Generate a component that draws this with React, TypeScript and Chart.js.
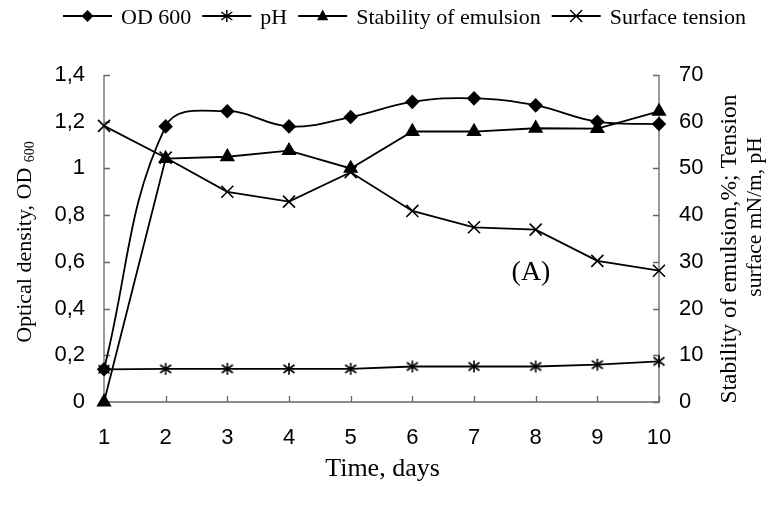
import React, { useEffect, useRef } from 'react';
import { Chart, registerables } from 'chart.js';

Chart.register(...registerables);

const days = ['1', '2', '3', '4', '5', '6', '7', '8', '9', '10'];
const od600 = [0.14, 1.18, 1.245, 1.18, 1.22, 1.285, 1.3, 1.27, 1.2, 1.19];
const pH = [7.0, 7.1, 7.1, 7.1, 7.1, 7.6, 7.6, 7.6, 8.0, 8.7];
const stability = [0, 52.1, 52.5, 53.8, 50.0, 57.9, 57.9, 58.6, 58.5, 62.2];
const surfaceTension = [59.1, 52.3, 45.0, 42.9, 49.2, 40.9, 37.4, 36.9, 30.2, 28.1];
const leftTicks = [0, 0.2, 0.4, 0.6, 0.8, 1.0, 1.2, 1.4];
const rightTicks = [0, 10, 20, 30, 40, 50, 60, 70];
const seriesNames = ['OD 600', 'pH', 'Stability of emulsion', 'Surface tension'];

const SERIF = "'Liberation Serif', 'Times New Roman', serif";
const SANS = "'Liberation Sans', Arial, sans-serif";

function fmtLeft(v: number) {
  return String(Number(v.toFixed(1))).replace('.', ',');
}

function drawMarker(ctx: CanvasRenderingContext2D, kind: number, x: number, y: number) {
  ctx.save();
  ctx.fillStyle = '#000';
  ctx.strokeStyle = '#000';
  ctx.lineWidth = 1.5;
  ctx.beginPath();
  if (kind === 0) {
    const r = 6;
    ctx.moveTo(x, y - r); ctx.lineTo(x + r, y); ctx.lineTo(x, y + r); ctx.lineTo(x - r, y); ctx.closePath();
    ctx.fill();
  } else if (kind === 1) {
    ctx.moveTo(x, y - 6); ctx.lineTo(x, y + 6);
    ctx.moveTo(x - 5.5, y - 4); ctx.lineTo(x + 5.5, y + 4);
    ctx.moveTo(x - 5.5, y + 4); ctx.lineTo(x + 5.5, y - 4);
    ctx.stroke();
  } else if (kind === 2) {
    const r = 6.5;
    ctx.moveTo(x, y - r); ctx.lineTo(x + r * 0.866, y + r * 0.5 + 1); ctx.lineTo(x - r * 0.866, y + r * 0.5 + 1); ctx.closePath();
    ctx.fill();
  } else {
    const d = 6;
    ctx.moveTo(x - d, y - d); ctx.lineTo(x + d, y + d);
    ctx.moveTo(x - d, y + d); ctx.lineTo(x + d, y - d);
    ctx.stroke();
  }
  ctx.restore();
}

function makeAsterisk(): HTMLCanvasElement {
  const c = document.createElement('canvas');
  c.width = 14; c.height = 14;
  const g = c.getContext('2d')!;
  g.strokeStyle = '#000';
  g.lineWidth = 1.6;
  g.beginPath();
  g.moveTo(7, 1); g.lineTo(7, 13);
  g.moveTo(1.5, 3); g.lineTo(12.5, 11);
  g.moveTo(1.5, 11); g.lineTo(12.5, 3);
  g.stroke();
  return c;
}

const overlay = {
  id: 'overlay',
  beforeDatasetsDraw(chart: any) {
    const { ctx, chartArea: a, scales } = chart;
    ctx.save();
    ctx.strokeStyle = '#666';
    ctx.lineWidth = 1.3;
    ctx.beginPath();
    ctx.moveTo(a.left, a.top); ctx.lineTo(a.left, a.bottom); ctx.lineTo(a.right, a.bottom); ctx.lineTo(a.right, a.top);
    ctx.stroke();
    ctx.beginPath();
    scales.y.ticks.forEach((t: any) => {
      const y = Math.round(scales.y.getPixelForValue(t.value)) + 0.5;
      ctx.moveTo(a.left, y); ctx.lineTo(a.left + 6, y);
    });
    scales.y1.ticks.forEach((t: any) => {
      const y = Math.round(scales.y1.getPixelForValue(t.value)) + 0.5;
      ctx.moveTo(a.right - 6, y); ctx.lineTo(a.right, y);
    });
    scales.x.ticks.forEach((_t: any, i: number) => {
      const x = Math.round(scales.x.getPixelForTick(i)) + 0.5;
      ctx.moveTo(x, a.bottom); ctx.lineTo(x, a.bottom - 6);
    });
    ctx.stroke();
    ctx.restore();
  },
  afterDraw(chart: any) {
    const { ctx, chartArea: a } = chart;
    ctx.save();
    ctx.fillStyle = '#000';
    ctx.strokeStyle = '#000';
    // legend
    ctx.font = `22px ${SERIF}`;
    ctx.textBaseline = 'alphabetic';
    ctx.textAlign = 'left';
    let x = 63;
    const ly = 16;
    seriesNames.forEach((name, i) => {
      ctx.lineWidth = 1.8;
      ctx.beginPath();
      ctx.moveTo(x, ly); ctx.lineTo(x + 49, ly);
      ctx.stroke();
      drawMarker(ctx, i, x + 24.5, ly);
      ctx.fillText(name, x + 58, ly + 8);
      x = x + 58 + ctx.measureText(name).width + 11;
    });
    // x title
    ctx.textAlign = 'center';
    ctx.font = `26px ${SERIF}`;
    ctx.fillText('Time, days', (a.left + a.right) / 2 + 1, 476);
    // (A)
    ctx.font = `28px ${SERIF}`;
    ctx.fillText('(A)', 531, 280);
    // left title
    ctx.save();
    ctx.translate(31, 242);
    ctx.rotate(-Math.PI / 2);
    ctx.textAlign = 'left';
    ctx.font = `22px ${SERIF}`;
    const main = 'Optical density, OD ';
    const w1 = ctx.measureText(main).width;
    ctx.font = `14px ${SERIF}`;
    const w2 = ctx.measureText('600').width;
    const start = -(w1 + w2) / 2;
    ctx.font = `22px ${SERIF}`;
    ctx.fillText(main, start, 0);
    ctx.font = `14px ${SERIF}`;
    ctx.fillText('600', start + w1, 3);
    ctx.restore();
    // right title
    ctx.textAlign = 'center';
    const rlines: [string, number, number, number][] = [
      ['Stability of emulsion,%; Tension', 736, 249, 23.5],
      ['surface mN/m, pH', 761, 217, 21.5],
    ];
    rlines.forEach(([t, cx, cy, fs]) => {
      ctx.save();
      ctx.font = `${fs}px ${SERIF}`;
      ctx.translate(cx, cy);
      ctx.rotate(-Math.PI / 2);
      ctx.fillText(t, 0, 0);
      ctx.restore();
    });
    ctx.restore();
  },
};

export default function App() {
  const ref = useRef<HTMLCanvasElement | null>(null);
  useEffect(() => {
    document.body.style.margin = '0';
    const canvas = ref.current!;
    const star = makeAsterisk();
    const chart = new Chart(canvas, {
      type: 'line',
      data: {
        labels: days,
        datasets: [
          {
            label: seriesNames[0], data: od600, yAxisID: 'y', borderColor: '#000', backgroundColor: '#000',
            borderWidth: 1.8, pointStyle: 'rectRot', pointRadius: 6, tension: 0.4, clip: false,
          },
          {
            label: seriesNames[1], data: pH, yAxisID: 'y1', borderColor: '#000', backgroundColor: '#000',
            borderWidth: 1.8, pointStyle: star as any, pointRadius: 7, tension: 0, clip: false,
          },
          {
            label: seriesNames[2], data: stability, yAxisID: 'y1', borderColor: '#000', backgroundColor: '#000',
            borderWidth: 1.8, pointStyle: 'triangle', pointRadius: 7, tension: 0, clip: false,
          },
          {
            label: seriesNames[3], data: surfaceTension, yAxisID: 'y1', borderColor: '#000', backgroundColor: '#000',
            borderWidth: 1.8, pointStyle: 'crossRot', pointRadius: 8.5, pointBorderWidth: 1.6, tension: 0, clip: false,
          },
        ],
      },
      options: {
        animation: false,
        responsive: false,
        devicePixelRatio: 1,
        layout: { padding: { top: 75, left: 0, right: 0, bottom: 0 } },
        plugins: { legend: { display: false }, tooltip: { enabled: false }, title: { display: false } },
        scales: {
          x: {
            type: 'category',
            offset: false,
            grid: { display: false, drawTicks: false },
            border: { display: false },
            ticks: { color: '#000', font: { family: SANS, size: 22 }, padding: 23, maxRotation: 0, autoSkip: false },
            afterFit: (s: any) => { s.height = 107; },
          },
          y: {
            position: 'left',
            min: 0, max: 1.4,
            grid: { display: false, drawTicks: false },
            border: { display: false },
            ticks: { color: '#000', font: { family: SANS, size: 22 }, padding: 19, callback: (v: any) => fmtLeft(Number(v)) },
            afterBuildTicks: (s: any) => { s.ticks = leftTicks.map((v) => ({ value: v })); },
            afterFit: (s: any) => { s.width = 104; },
          },
          y1: {
            position: 'right',
            min: 0, max: 70,
            grid: { display: false, drawTicks: false },
            border: { display: false },
            ticks: { color: '#000', font: { family: SANS, size: 22 }, padding: 20 },
            afterBuildTicks: (s: any) => { s.ticks = rightTicks.map((v) => ({ value: v })); },
            afterFit: (s: any) => { s.width = 111; },
          },
        },
      } as any,
      plugins: [overlay],
    });
    return () => chart.destroy();
  }, []);
  return <canvas ref={ref} width={770} height={509} style={{ display: 'block' }} />;
}
